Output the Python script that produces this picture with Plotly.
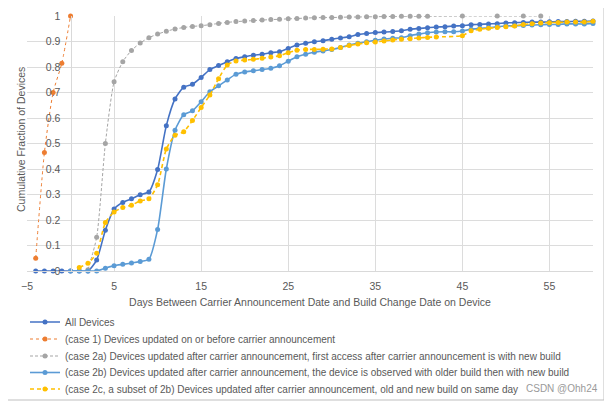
import plotly.graph_objects as go

# ---- data ----
all_x = list(range(-4, 61))
all_y = [0, 0, 0, 0, 0, 0, 0, 0.043, 0.16, 0.243, 0.269, 0.283, 0.299, 0.31, 0.398, 0.57,
         0.675, 0.721, 0.732, 0.759, 0.79, 0.806, 0.821, 0.833, 0.84, 0.846, 0.85, 0.856,
         0.86, 0.873, 0.886, 0.893, 0.899, 0.903, 0.909, 0.914, 0.919, 0.927, 0.931, 0.935,
         0.937, 0.939, 0.942, 0.948, 0.951, 0.954, 0.957, 0.958, 0.961, 0.962, 0.966, 0.967,
         0.969, 0.97, 0.973, 0.974, 0.975, 0.976, 0.976, 0.977, 0.978, 0.978, 0.979, 0.979, 0.98]

case1_x = [-4, -3, -2, -1, 0]
case1_y = [0.05, 0.465, 0.70, 0.815, 1.0]

case2a_x = list(range(2, 42)) + [45, 49, 52, 54]
case2a_y = [0.005, 0.132, 0.50, 0.742, 0.821, 0.865, 0.894, 0.915, 0.929, 0.94, 0.949, 0.955,
            0.959, 0.962, 0.966, 0.971, 0.975, 0.978, 0.98, 0.982, 0.984, 0.986, 0.987, 0.989,
            0.99, 0.992, 0.993, 0.994, 0.994, 0.995, 0.996, 0.996, 0.997, 0.997, 0.998, 0.998,
            0.999, 0.999, 0.999, 0.999, 1.0, 1.0, 1.0, 1.0]

case2b_x = list(range(0, 61))
case2b_y = [0, 0, 0, 0, 0.011, 0.021, 0.026, 0.031, 0.037, 0.046, 0.163, 0.40, 0.552, 0.613,
            0.628, 0.664, 0.703, 0.726, 0.749, 0.772, 0.78, 0.785, 0.79, 0.795, 0.805, 0.823,
            0.84, 0.85, 0.858, 0.863, 0.869, 0.876, 0.886, 0.893, 0.899, 0.905, 0.91, 0.913,
            0.915, 0.923, 0.929, 0.934, 0.937, 0.938, 0.938, 0.941, 0.948, 0.951, 0.954, 0.958,
            0.961, 0.962, 0.963, 0.965, 0.966, 0.967, 0.967, 0.969, 0.969, 0.969, 0.971]

case2c_x = list(range(1, 43)) + list(range(45, 61))
case2c_y = [0.014, 0.03, 0.07, 0.19, 0.231, 0.249, 0.258, 0.275, 0.283, 0.338, 0.478, 0.532,
            0.546, 0.59, 0.641, 0.69, 0.754, 0.808, 0.824, 0.827, 0.83, 0.834, 0.839, 0.844,
            0.856, 0.866, 0.869, 0.869, 0.87, 0.871, 0.876, 0.884, 0.89, 0.895, 0.898, 0.902,
            0.906, 0.909, 0.911, 0.914, 0.916, 0.918,
            0.923, 0.942, 0.948, 0.952, 0.955, 0.958, 0.961, 0.967, 0.97, 0.973, 0.974, 0.975,
            0.976, 0.976, 0.976, 0.979]

x_ticks = [-5, 5, 15, 25, 35, 45, 55]
y_ticks = [0, 0.1, 0.2, 0.3, 0.4, 0.5, 0.6, 0.7, 0.8, 0.9, 1]
y_ticktext = ["0", "0.1", "0.2", "0.3", "0.4", "0.5", "0.6", "0.7", "0.8", "0.9", "1"]

names = [
    "All Devices",
    "(case 1) Devices updated on or before carrier announcement",
    "(case 2a) Devices updated after carrier announcement, first access after carrier announcement is with new build",
    "(case 2b) Devices updated after carrier announcement, the device is observed with older build then with new build",
    "(case 2c, a subset of 2b) Devices updated after carrier announcement, old and new build on same day",
]

FONT = "Liberation Sans, Arial, sans-serif"
TXT = "#595959"

# Page body has an 8px margin; the figure is laid out in screenshot pixels below.
OFF = 8
W, H = 612 - OFF, 410 - OFF
L, R, T, B = 19, 19, 8, 139
pw, ph = W - L - R, H - T - B

def px2paper_x(scr):
    return (scr - OFF - L) / pw

def px2paper_y(scr):
    return (H - B - (scr - OFF)) / ph

legend_keys = ["legend", "legend2", "legend3", "legend4", "legend5"]
legend_centers = [322, 339, 356, 372.5, 389]

fig = go.Figure()
fig.add_trace(go.Scatter(x=all_x, y=all_y, name=names[0], mode="lines+markers", legend=legend_keys[0],
                         line=dict(color="#4472C4", width=1.6, shape="spline", smoothing=0.6),
                         marker=dict(size=5, color="#4472C4"), cliponaxis=False))
fig.add_trace(go.Scatter(x=case1_x, y=case1_y, name=names[1], mode="lines+markers", legend=legend_keys[1],
                         line=dict(color="#ED7D31", width=1, dash="dot", shape="spline", smoothing=0.6),
                         marker=dict(size=5, color="#ED7D31"), cliponaxis=False))
fig.add_trace(go.Scatter(x=case2a_x, y=case2a_y, name=names[2], mode="lines+markers", legend=legend_keys[2],
                         line=dict(color="#A5A5A5", width=1, dash="3px,2px", shape="spline", smoothing=0.6),
                         marker=dict(size=5, color="#A5A5A5"), cliponaxis=False))
fig.add_trace(go.Scatter(x=case2b_x, y=case2b_y, name=names[3], mode="lines+markers", legend=legend_keys[3],
                         line=dict(color="#5B9BD5", width=1.6, shape="spline", smoothing=0.6),
                         marker=dict(size=5, color="#5B9BD5"), cliponaxis=False))
fig.add_trace(go.Scatter(x=case2c_x, y=case2c_y, name=names[4], mode="lines+markers", legend=legend_keys[4],
                         line=dict(color="#FFC000", width=1.6, dash="4px,3px", shape="spline", smoothing=0.6),
                         marker=dict(size=5, color="#FFC000"), cliponaxis=False))

layout_legends = {}
for key, cy in zip(legend_keys, legend_centers):
    layout_legends[key] = dict(x=px2paper_x(25), y=px2paper_y(cy), xanchor="left", yanchor="middle",
                               font=dict(size=10, color=TXT), itemwidth=30,
                               bgcolor="rgba(0,0,0,0)")

fig.update_layout(
    width=W, height=H,
    margin=dict(l=L, r=R, t=T, b=B, autoexpand=False),
    paper_bgcolor="white", plot_bgcolor="white",
    font=dict(family=FONT, size=11, color=TXT),
    xaxis=dict(range=[-5, 60], tickvals=x_ticks, showgrid=True, gridcolor="#DCDCDC",
               gridwidth=1, zeroline=False, showline=True, linecolor="#D9D9D9",
               ticks="", tickfont=dict(size=10.5, color=TXT), automargin=False,
               ticklabelstandoff=5,
               title=dict(text="Days Between Carrier Announcement Date and Build Change Date on Device",
                          font=dict(size=10.5, color=TXT), standoff=8)),
    yaxis=dict(range=[0, 1], tickvals=y_ticks, ticktext=y_ticktext, showgrid=True,
               gridcolor="#DCDCDC", gridwidth=1, zeroline=False, anchor="free",
               position=5 / 65, showline=True, linecolor="#D9D9D9", ticks="",
               ticklabelstandoff=8, automargin=False,
               tickfont=dict(size=10.5, color=TXT)),
    showlegend=True,
    **layout_legends,
)

fig.add_annotation(text="Cumulative Fraction of Devices", textangle=-90,
                   x=px2paper_x(21), y=px2paper_y(140), xref="paper", yref="paper",
                   xanchor="center", yanchor="middle",
                   showarrow=False, font=dict(size=10.5, color=TXT))
fig.add_annotation(text="CSDN @Ohh24", x=px2paper_x(600), y=px2paper_y(396),
                   xref="paper", yref="paper", xanchor="right", showarrow=False,
                   font=dict(size=10, color="#9A9A9A"))

fig.add_shape(type="rect", xref="paper", yref="paper",
              x0=px2paper_x(5), x1=px2paper_x(604), y0=px2paper_y(400), y1=px2paper_y(6),
              line=dict(color="#BFBFBF", width=1), fillcolor="rgba(0,0,0,0)", layer="below")

fig.write_html("out.html")
